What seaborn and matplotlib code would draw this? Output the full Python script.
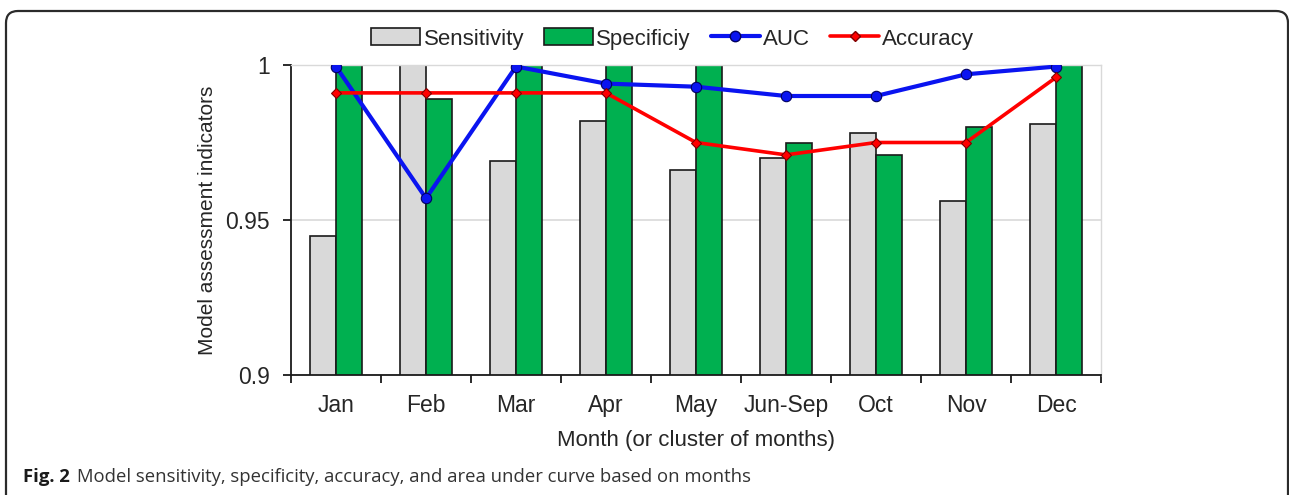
import numpy as np
import pandas as pd
import matplotlib
matplotlib.use("Agg")
import matplotlib.pyplot as plt
import seaborn as sns
from matplotlib.patches import FancyBboxPatch, Patch
from matplotlib.lines import Line2D

months = ["Jan", "Feb", "Mar", "Apr", "May", "Jun-Sep", "Oct", "Nov", "Dec"]
sensitivity = [0.945, 1.000, 0.969, 0.982, 0.966, 0.970, 0.978, 0.956, 0.981]
specificity = [1.000, 0.989, 1.000, 1.000, 1.000, 0.975, 0.971, 0.980, 1.000]
auc = [0.9995, 0.957, 0.9995, 0.994, 0.993, 0.990, 0.990, 0.997, 0.9995]
accuracy = [0.991, 0.991, 0.991, 0.991, 0.975, 0.971, 0.975, 0.975, 0.996]

bar_df = pd.DataFrame({
    "month": months * 2,
    "value": sensitivity + specificity,
    "metric": ["Sensitivity"] * len(months) + ["Specificiy"] * len(months),
})

sns.set_style("white")
plt.rcParams["font.family"] = ["Liberation Sans", "DejaVu Sans"]

fig = plt.figure(figsize=(12.89, 4.95), dpi=100)
ax = fig.add_axes([291 / 1289, 1 - 375 / 495, 810 / 1289, 310 / 495])

gray = "#d9d9d9"
green = "#00b050"
sns.barplot(data=bar_df, x="month", y="value", hue="metric", order=months,
            palette=[gray, green], saturation=1, width=0.58, gap=0,
            edgecolor="#1a1a1a", linewidth=1.2, errorbar=None, legend=False,
            ax=ax, zorder=2)

sns.pointplot(x=months, y=auc, color="#0a14f0", markers="o", errorbar=None,
              linewidth=3, markersize=7.5, markeredgecolor="#000060",
              markeredgewidth=0.8, ax=ax, zorder=4)
sns.pointplot(x=months, y=accuracy, color="#ff0000", markers="D", errorbar=None,
              linewidth=2.6, markersize=5, markeredgecolor="#800000",
              markeredgewidth=0.8, ax=ax, zorder=5)

ax.set_ylim(0.9, 1.0)
ax.set_xlim(-0.5, len(months) - 0.5)
ax.set_yticks([0.9, 0.95, 1.0])
ax.set_yticklabels(["0.9", "0.95", "1"])
ax.yaxis.grid(True, color="#d9d9d9", linewidth=1.2, zorder=0)
ax.set_axisbelow(True)

ax.set_xticks(np.arange(-0.5, len(months), 1))
ax.set_xticklabels([])
ax.set_xticks(np.arange(len(months)), minor=True)
ax.set_xticklabels(months, minor=True)
ax.tick_params(axis="x", which="major", direction="out", length=6, width=1.3,
               color="#1a1a1a", bottom=True)
ax.tick_params(axis="x", which="minor", length=0, pad=14, labelsize=16.5,
               labelcolor="#262626")
ax.tick_params(axis="y", direction="out", length=6, width=1.3, color="#1a1a1a",
               left=True, pad=9, labelsize=16.5, labelcolor="#262626")

for side in ["left", "bottom"]:
    ax.spines[side].set_color("#1a1a1a")
    ax.spines[side].set_linewidth(1.3)
for side in ["top", "right"]:
    ax.spines[side].set_visible(True)
    ax.spines[side].set_color("#d9d9d9")
    ax.spines[side].set_linewidth(1.0)

ax.set_xlabel("Month (or cluster of months)", fontsize=16, color="#262626", labelpad=9)
ax.set_ylabel("Model assessment indicators", fontsize=15, color="#262626", labelpad=6)

handles = [
    Patch(facecolor=gray, edgecolor="#1a1a1a", linewidth=1.2),
    Patch(facecolor=green, edgecolor="#1a1a1a", linewidth=1.2),
    Line2D([], [], color="#0a14f0", lw=3, marker="o", markersize=7.5,
           markeredgecolor="#000060"),
    Line2D([], [], color="#ff0000", lw=2.6, marker="D", markersize=5,
           markeredgecolor="#800000"),
]
fig.legend(handles, ["Sensitivity", "Specificiy", "AUC", "Accuracy"],
           loc="center", bbox_to_anchor=(0.522, 1 - 39 / 495), ncol=4,
           frameon=False, fontsize=16, handlelength=2.2, handleheight=0.8,
           handletextpad=0.15, columnspacing=0.9, labelcolor="#262626")

# rounded panel border (open at the bottom)
border = FancyBboxPatch((6, -30), 1282, 514, boxstyle="round,pad=0,rounding_size=12",
                        transform=None, facecolor="none", edgecolor="#2b2b2b",
                        linewidth=1.6)
fig.add_artist(border)

fig.text(23 / 1289, 1 - 477 / 495, "Fig. 2", fontsize=13.3, fontweight="bold",
         family=["Open Sans", "DejaVu Sans"], va="center", color="#1a1a1a")
fig.text(77 / 1289, 1 - 477 / 495,
         "Model sensitivity, specificity, accuracy, and area under curve based on months",
         fontsize=13.3, family=["Open Sans", "DejaVu Sans"], va="center", color="#333333")

fig.savefig("out.png", dpi=100)
